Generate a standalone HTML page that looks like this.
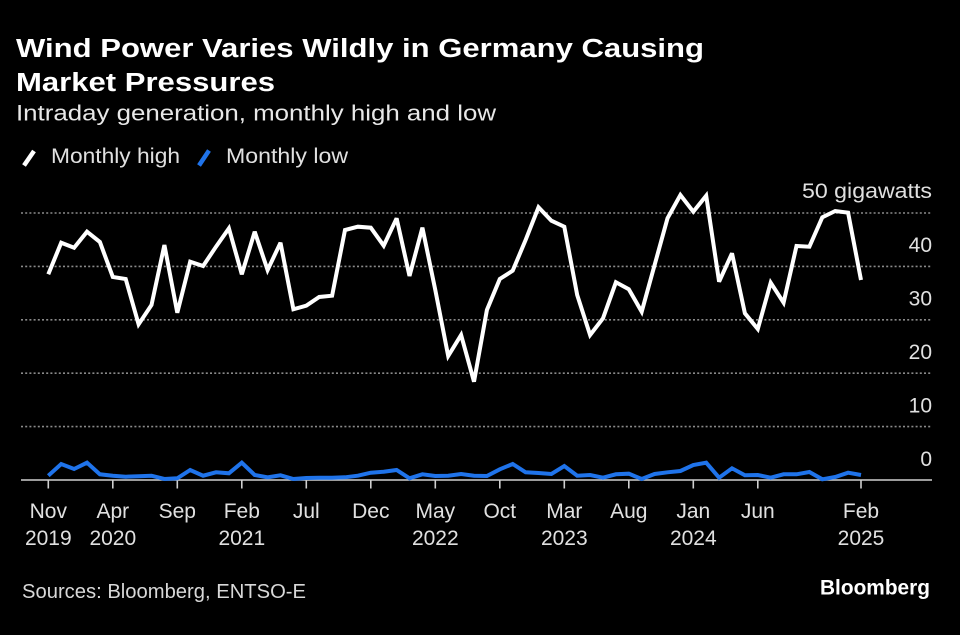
<!DOCTYPE html>
<html>
<head>
<meta charset="utf-8">
<style>
  html, body { margin:0; padding:0; background:#000; }
  body { width:960px; height:635px; overflow:hidden; }
  svg { display:block; }
  text { font-family: "Liberation Sans", sans-serif; }
</style>
</head>
<body>
<svg width="960" height="635" viewBox="0 0 960 635" xmlns="http://www.w3.org/2000/svg">
  <rect x="0" y="0" width="960" height="635" fill="#000"/>

  <!-- Title -->
  <text x="16" y="57" font-size="25.5" font-weight="bold" fill="#fff" textLength="688" lengthAdjust="spacingAndGlyphs">Wind Power Varies Wildly in Germany Causing</text>
  <text x="16" y="91" font-size="25.5" font-weight="bold" fill="#fff" textLength="259" lengthAdjust="spacingAndGlyphs">Market Pressures</text>
  <!-- Subtitle -->
  <text x="16" y="120.5" font-size="22" fill="#e8e8e8" textLength="480" lengthAdjust="spacingAndGlyphs">Intraday generation, monthly high and low</text>

  <!-- Legend -->
  <line x1="24" y1="165.5" x2="34" y2="151" stroke="#fff" stroke-width="4.5"/>
  <text x="51" y="163" font-size="21.5" fill="#e0e0e0" textLength="129" lengthAdjust="spacingAndGlyphs">Monthly high</text>
  <line x1="199" y1="165.5" x2="209" y2="150.5" stroke="#1f73ea" stroke-width="4.5"/>
  <text x="226" y="163" font-size="21.5" fill="#e0e0e0" textLength="122" lengthAdjust="spacingAndGlyphs">Monthly low</text>

  <!-- Gridlines -->
  <g stroke="#8a8a8a" stroke-width="1.6" stroke-dasharray="2 2.2">
    <line x1="21" y1="213" x2="932" y2="213"/>
    <line x1="21" y1="266.4" x2="932" y2="266.4"/>
    <line x1="21" y1="319.8" x2="932" y2="319.8"/>
    <line x1="21" y1="373.2" x2="932" y2="373.2"/>
    <line x1="21" y1="426.6" x2="932" y2="426.6"/>
  </g>

  <!-- Y labels -->
  <g font-size="21" fill="#e0e0e0" text-anchor="end">
    <text x="932" y="198" textLength="130" lengthAdjust="spacingAndGlyphs">50 gigawatts</text>
    <text x="932" y="252">40</text>
    <text x="932" y="305.5">30</text>
    <text x="932" y="359">20</text>
    <text x="932" y="412.5">10</text>
    <text x="932" y="466">0</text>
  </g>

  <!-- Baseline -->
  <line x1="21" y1="480" x2="932" y2="480" stroke="#cfcfcf" stroke-width="1.6"/>

  <!-- Ticks -->
  <g stroke="#cfcfcf" stroke-width="1.6">
    <line x1="48.3" y1="480" x2="48.3" y2="488.5"/>
    <line x1="112.8" y1="480" x2="112.8" y2="488.5"/>
    <line x1="177.3" y1="480" x2="177.3" y2="488.5"/>
    <line x1="241.8" y1="480" x2="241.8" y2="488.5"/>
    <line x1="306.3" y1="480" x2="306.3" y2="488.5"/>
    <line x1="370.8" y1="480" x2="370.8" y2="488.5"/>
    <line x1="435.3" y1="480" x2="435.3" y2="488.5"/>
    <line x1="499.8" y1="480" x2="499.8" y2="488.5"/>
    <line x1="564.3" y1="480" x2="564.3" y2="488.5"/>
    <line x1="628.8" y1="480" x2="628.8" y2="488.5"/>
    <line x1="693.3" y1="480" x2="693.3" y2="488.5"/>
    <line x1="757.8" y1="480" x2="757.8" y2="488.5"/>
    <line x1="861" y1="480" x2="861" y2="488.5"/>
  </g>

  <!-- X labels -->
  <g font-size="21" fill="#e0e0e0" text-anchor="middle">
    <text x="48.3" y="518">Nov</text>
    <text x="48.3" y="545">2019</text>
    <text x="112.8" y="518">Apr</text>
    <text x="112.8" y="545">2020</text>
    <text x="177.3" y="518">Sep</text>
    <text x="241.8" y="518">Feb</text>
    <text x="241.8" y="545">2021</text>
    <text x="306.3" y="518">Jul</text>
    <text x="370.8" y="518">Dec</text>
    <text x="435.3" y="518">May</text>
    <text x="435.3" y="545">2022</text>
    <text x="499.8" y="518">Oct</text>
    <text x="564.3" y="518">Mar</text>
    <text x="564.3" y="545">2023</text>
    <text x="628.8" y="518">Aug</text>
    <text x="693.3" y="518">Jan</text>
    <text x="693.3" y="545">2024</text>
    <text x="757.8" y="518">Jun</text>
    <text x="861" y="518">Feb</text>
    <text x="861" y="545">2025</text>
  </g>

  <!-- Monthly low (blue) -->
  <polyline fill="none" stroke="#1f73ea" stroke-width="4" stroke-linejoin="miter" stroke-miterlimit="3"
    points="48.3,475.7 61.2,464 74.1,469 87,462.7 99.9,474.3 112.8,475.7 125.7,476.7 138.6,476.3 151.5,475.7 164.4,479 177.3,478.3 190.2,470 203.1,475.7 216,472.3 228.9,473.3 241.8,462.7 254.7,475 267.6,477.3 280.5,475.3 293.4,479 306.3,478 319.2,477.7 332.1,477.7 345,477.3 357.9,475.7 370.8,472.7 383.7,471.7 396.6,470 409.5,478.3 422.4,474.3 435.3,476 448.2,475.7 461.1,474 474,475.7 486.9,476 499.8,469.3 512.7,464 525.6,472.3 538.5,473 551.4,474 564.3,466 577.2,475.7 590.1,475 603,477.7 615.9,474.3 628.8,473.7 641.7,479 654.6,474 667.5,472.3 680.4,471 693.3,465 706.2,462.7 719.1,477.7 732,468.3 744.9,475.3 757.8,475 770.7,477.7 783.6,474.3 796.5,474.3 809.4,472 822.3,479.3 835.2,477 848.1,472.7 861,475"/>

  <!-- Monthly high (white) -->
  <polyline fill="none" stroke="#fff" stroke-width="4" stroke-linejoin="miter" stroke-miterlimit="3"
    points="48.3,274.3 61.2,242.7 74.1,247.7 87,231.7 99.9,242 112.8,277 125.7,279 138.6,324.3 151.5,305 164.4,245 177.3,312.7 190.2,261.7 203.1,266 216,246.7 228.9,228.3 241.8,274.3 254.7,231.7 267.6,270 280.5,242.7 293.4,309.3 306.3,305.7 319.2,297 332.1,295.7 345,230 357.9,226.7 370.8,227.7 383.7,245.7 396.6,218.3 409.5,276 422.4,227.7 435.3,290 448.2,356 461.1,335 474,381.7 486.9,310 499.8,279 512.7,270.7 525.6,240 538.5,207.3 551.4,220.7 564.3,226.7 577.2,295 590.1,335 603,318.3 615.9,282.3 628.8,289.3 641.7,311.7 654.6,265 667.5,218.3 680.4,195 693.3,211.7 706.2,195.7 719.1,281.7 732,253.3 744.9,313.3 757.8,329 770.7,282.7 783.6,302.7 796.5,246 809.4,246.7 822.3,217.3 835.2,211 848.1,212.7 861,280"/>

  <!-- Footer -->
  <text x="22" y="598" font-size="20" fill="#d8d8d8" textLength="284" lengthAdjust="spacingAndGlyphs">Sources: Bloomberg, ENTSO-E</text>
  <text x="820" y="594.5" font-size="21" font-weight="bold" fill="#fff" textLength="110" lengthAdjust="spacingAndGlyphs">Bloomberg</text>
</svg>
</body>
</html>
